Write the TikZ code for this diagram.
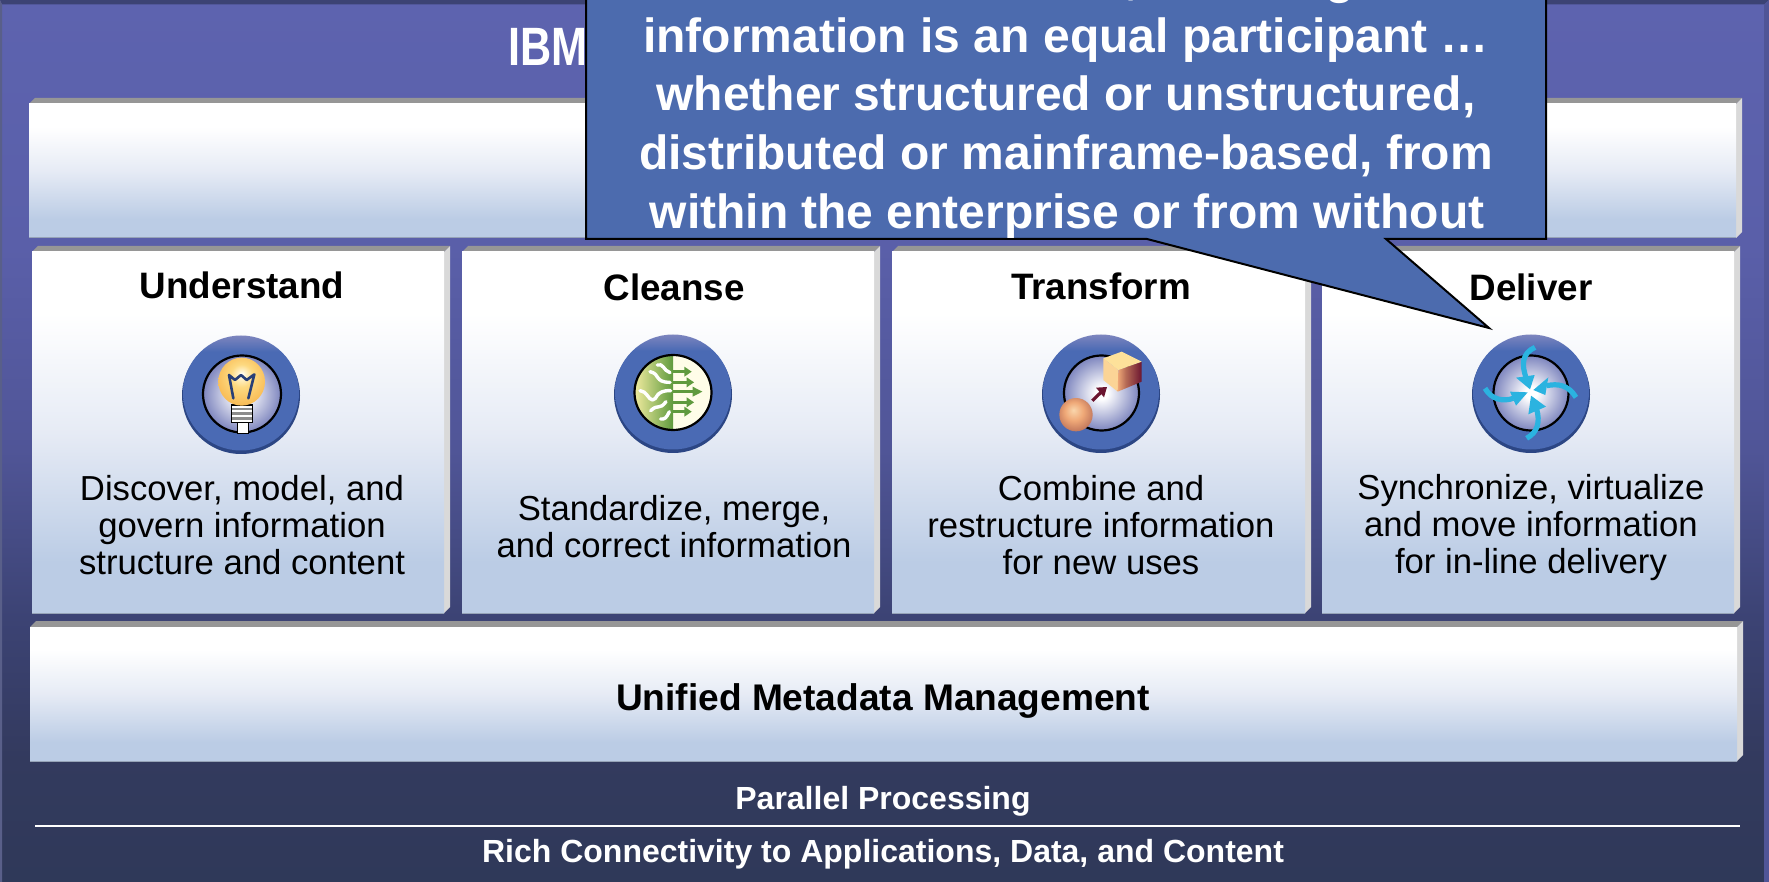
\documentclass[tikz,border=0pt]{standalone}
\usepackage{fontspec}
\setmainfont{Liberation Sans}
\usetikzlibrary{calc}
\definecolor{bgA}{HTML}{5D63AF}
\definecolor{bgB}{HTML}{5A5FA9}
\definecolor{bgC}{HTML}{505597}
\definecolor{bgD}{HTML}{3C4374}
\definecolor{bgE}{HTML}{333A5E}
\definecolor{bgF}{HTML}{2F3959}
\definecolor{paneA}{HTML}{BBCCE5}
\definecolor{paneB}{HTML}{E6EBF5}
\definecolor{callout}{HTML}{4C6BAE}
\definecolor{ringblue}{HTML}{4A6AB4}
\definecolor{ringdark}{HTML}{2C4684}
\definecolor{orbedge}{HTML}{7D85BE}
\definecolor{bulbA}{HTML}{FFF4D0}
\definecolor{bulbB}{HTML}{FDD980}
\definecolor{bulbC}{HTML}{F8B850}
\definecolor{ballA}{HTML}{F9D6AC}
\definecolor{ballB}{HTML}{EFA877}
\definecolor{ballC}{HTML}{B56A55}
\definecolor{leafA}{HTML}{F2ECA0}
\definecolor{leafB}{HTML}{5F9A3E}
\definecolor{creamy}{HTML}{FFFDE8}
\definecolor{swirl}{HTML}{2BB3E0}
\definecolor{maroon}{HTML}{6B1530}
\pgfdeclareverticalshading{bgshade}{100bp}{color(0bp)=(bgF); color(25bp)=(bgF); color(32bp)=(bgE); color(40bp)=(bgD); color(49.5bp)=(bgC); color(61bp)=(bgB); color(75bp)=(bgA); color(100bp)=(bgA)}
\pgfdeclareverticalshading{paneshade}{100bp}{color(0bp)=(paneA); color(32bp)=(paneA); color(50bp)=(paneB); color(66.5bp)=(white); color(100bp)=(white)}
\pgfdeclareradialshading{orbshade}{\pgfpoint{0bp}{0bp}}{color(0bp)=(white); color(4bp)=(white); color(25bp)=(orbedge); color(50bp)=(orbedge)}
\pgfdeclareradialshading{bulbshade}{\pgfpoint{0bp}{8bp}}{color(0bp)=(white); color(3.5bp)=(bulbA); color(12bp)=(bulbB); color(30bp)=(bulbC); color(50bp)=(bulbC)}
\pgfdeclareradialshading{ballshade}{\pgfpoint{-4bp}{7bp}}{color(0bp)=(ballA); color(14bp)=(ballB); color(32bp)=(ballC); color(50bp)=(ballC)}
\pgfdeclarehorizontalshading{leafshade}{100bp}{color(0bp)=(leafA); color(25bp)=(leafA); color(75bp)=(leafB); color(100bp)=(leafB)}
\pgfdeclarehorizontalshading{cubeshade}{100bp}{color(0bp)=(ballB); color(25bp)=(ballB); color(42bp)=(ballC); color(75bp)=(maroon); color(100bp)=(maroon)}
\pgfdeclareverticalshading{ringshade}{100bp}{color(0bp)=(ringblue); color(68bp)=(ringblue); color(75bp)=(orbedge); color(100bp)=(orbedge)}
\tikzset{
  head/.style={font=\fontsize{18.4}{22}\selectfont\bfseries, text=black, anchor=base, inner sep=0pt},
  body/.style={font=\fontsize{17.35}{18.5}\selectfont, text=black, align=center, inner sep=0pt},
  foot/.style={font=\fontsize{16}{18}\selectfont\bfseries, text=white, anchor=base, inner sep=0pt},
  calloutfont/.style={font=\fontsize{24}{29.3}\selectfont\bfseries, text=white, inner sep=0pt},
  pipe/.style={line width=1.7pt, white, line cap=round, line join=round},
}
% panel: x0 y0 x1 y1 of the face
\newcommand{\panelbox}[4]{%
  \fill[black!41] (#1,#2) -- (#1+6,#2-6) -- (#3+6,#2-6) -- (#3,#2) -- cycle;
  \fill[black!15] (#3,#2) -- (#3+6,#2-6) -- (#3+6,#4-6) -- (#3,#4) -- cycle;
  \shade[shading=paneshade] (#1,#2) rectangle (#3,#4);
  \draw[paneA!80!black, line width=0.5pt] (#1,#4) -- (#3,#4);
}
\newcommand{\ringbase}[2]{%
  \fill[ringdark] (#1,#2+1.5) ellipse [x radius=59, y radius=58.5];
  \shade[shading=ringshade] (#1,#2-1) ellipse [x radius=58, y radius=57.5];
}
\begin{document}
\begin{tikzpicture}[x=0.5pt,y=-0.5pt]
\useasboundingbox (0,0) rectangle (1769,882);
% frame
\shade[shading=bgshade] (0,0) rectangle (1769,882);
\fill[bgD] (0,0) -- (1769,0) -- (1764,4.5) -- (2,4.5) -- cycle;
\fill[bgC] (1764,4.5) -- (1769,0) -- (1769,882) -- (1764,882) -- cycle;
\fill[bgD!85!white] (0,0) -- (2,4.5) -- (2,882) -- (0,882) -- cycle;
\node[anchor=base west, inner sep=0pt, text=white, font=\fontsize{27}{30}\selectfont\bfseries, xscale=0.8] (title) at (508,66) {IBM};
% panels
\panelbox{29}{104}{1736}{238}
\panelbox{32}{252}{444}{613}
\panelbox{462}{252}{874}{613}
\panelbox{892}{252}{1305}{613}
\panelbox{1322}{252}{1734}{613}
\panelbox{30}{627}{1737}{761}
% column texts
\node[head] (understand) at (242,298.5) {Understand};
\node[head] (cleanse) at (674,300.5) {Cleanse};
\node[head] (transform) at (1101,299.5) {Transform};
\node[head] (deliver) at (1531,300.5) {Deliver};
\node[body] (t1) at (242,525) {Discover, model, and\\govern information\\structure and content};
\node[body] (t2) at (674,527) {Standardize, merge,\\and correct information};
\node[body] (t3) at (1101,525) {Combine and\\restructure information\\for new uses};
\node[body] (t4) at (1531,528) {Synchronize, virtualize\\and move information\\for in-line delivery};
\node[head, font=\fontsize{18.55}{22}\selectfont\bfseries] (meta) at (883,710) {Unified Metadata Management};
\node[foot] (parallel) at (883,809) {Parallel Processing};
\coordinate (ruleL) at (35,826);
\coordinate (ruleR) at (1740,826);
\draw[white, line width=0.8pt] (ruleL) -- (ruleR);
\node[foot] (rich) at (883,862) {Rich Connectivity to Applications, Data, and Content};
% icon 1: bulb
\ringbase{241}{394}
\shade[shading=orbshade, draw=black, line width=1.1pt] (242,394) ellipse [x radius=39, y radius=38.5];
\begin{scope}[shift={(205,345)}, x=0.16667pt, y=-0.16667pt]
  \filldraw[fill=white, draw=black, line width=0.6pt] (97,230) -- (97,265) -- (130,265) -- (130,230) -- cycle;
  \filldraw[fill=white, draw=black, line width=0.8pt] (80,180) -- (80,232) -- (143,232) -- (143,180) -- cycle;
  \foreach \yy in {192,206,220} \draw[black!45, line width=1.2pt] (82,\yy) -- (141,\yy);
  \shade[shading=bulbshade] (110,110) ellipse [x radius=70, y radius=72];
  \draw[ringdark!90!black, line width=1.3pt, line join=round, line cap=round] (85,160) -- (72,90) -- (90,105) -- (108,90) -- (125,105) -- (148,88) -- (130,160);
\end{scope}
% icon 2: cleanse
\ringbase{673}{393}
\begin{scope}
  \clip (673,392.5) ellipse [x radius=38.5, y radius=37.5];
  \fill[creamy] (673,350) rectangle (715,435);
  \shade[shading=leafshade] (634,350) rectangle (673,435);
\end{scope}
\draw[black, line width=1.1pt] (673,392.5) ellipse [x radius=38.5, y radius=37.5];
\begin{scope}[shift={(630,350)}, x=0.16667pt, y=-0.16667pt]
  \foreach \yy/\xe/\hw in {65/165/20, 97/172/20, 125/190/27, 157/172/20, 185/165/20}{
    \draw[leafB, line width=1.6pt] (130,\yy) -- (\xe,\yy);
    \fill[leafB] (\xe-2,\yy-15) -- (\xe+\hw,\yy) -- (\xe-2,\yy+15) -- cycle;
  }
  \draw[pipe] (82,45) .. controls (100,38) and (100,62) .. (120,68);
  \draw[pipe] (60,65) .. controls (92,72) and (72,97) .. (120,97);
  \draw[pipe] (30,122) .. controls (50,122) and (55,150) .. (68,150) .. controls (82,150) and (75,120) .. (122,122);
  \draw[pipe] (62,182) .. controls (85,160) and (88,182) .. (108,155);
  \draw[pipe] (92,207) .. controls (105,208) and (108,205) .. (118,185);
\end{scope}
% icon 3: transform
\ringbase{1101}{393}
\shade[shading=orbshade, draw=black, line width=1.1pt] (1101.5,393) ellipse [x radius=37.5, y radius=37.5];
\begin{scope}[shift={(1050,340)}, x=0.16667pt, y=-0.16667pt]
  \fill[bulbC!60!white] (160,55) -- (205,90) -- (203,155) -- (160,120) -- cycle;
  \shade[shading=cubeshade] (205,90) -- (275,65) -- (275,125) -- (203,155) -- cycle;
  \fill[bulbB!80!white] (160,55) -- (215,35) -- (275,65) -- (205,90) -- cycle;
  \draw[maroon, line width=1.6pt] (127,182) -- (155,155);
  \fill[maroon] (138,143) -- (171,141) -- (162,172) -- cycle;
  \shade[shading=ballshade] (78,224) circle [radius=50];
\end{scope}
% icon 4: deliver
\ringbase{1531}{393}
\shade[shading=orbshade, draw=black, line width=1.1pt] (1531,393) ellipse [x radius=37.5, y radius=37.5];
\begin{scope}[shift={(1480,335)}, x=0.16667pt, y=-0.16667pt]
  \draw[swirl, line width=2.6pt] (165,37) .. controls (125,55) and (125,90) .. (138,128);
  \fill[swirl] (108,128) -- (164,120) -- (150,163) -- cycle;
  \draw[swirl, line width=2.6pt] (288,187) .. controls (265,150) and (235,145) .. (200,152);
  \fill[swirl] (205,127) -- (196,180) -- (160,165) -- cycle;
  \draw[swirl, line width=2.6pt] (140,310) .. controls (175,290) and (180,260) .. (170,222);
  \fill[swirl] (145,238) -- (198,215) -- (153,182) -- cycle;
  \draw[swirl, line width=2.6pt] (15,160) .. controls (35,195) and (70,200) .. (100,190);
  \fill[swirl] (90,170) -- (108,212) -- (143,172) -- cycle;
\end{scope}
% callout
\coordinate (cTL) at (586,-6);
\coordinate (cBL) at (586,239);
\coordinate (pA) at (1147,239);
\coordinate (tip) at (1489,328);
\coordinate (pB) at (1386,239);
\coordinate (cBR) at (1546,239);
\coordinate (cTR) at (1546,-6);
\filldraw[fill=callout, draw=black, line width=1pt, line join=miter] (cTL) -- (cBL) -- (pA) -- (tip) -- (pB) -- (cBR) -- (cTR) -- cycle;
\node[calloutfont, anchor=base] (frag1) at (1132,-6) {,};
\node[calloutfont, anchor=base] (frag2) at (1340,-6) {g};
\node[calloutfont, anchor=base] (quote) at (1066,52.5) {information is an equal participant …};
\node[calloutfont, anchor=base] (q2) at (1066,111) {whether structured or unstructured,};
\node[calloutfont, anchor=base] (q3) at (1066,170) {distributed or mainframe-based, from};
\node[calloutfont, anchor=base] (q4) at (1067,229) {within the enterprise or from without};
\end{tikzpicture}
\end{document}
